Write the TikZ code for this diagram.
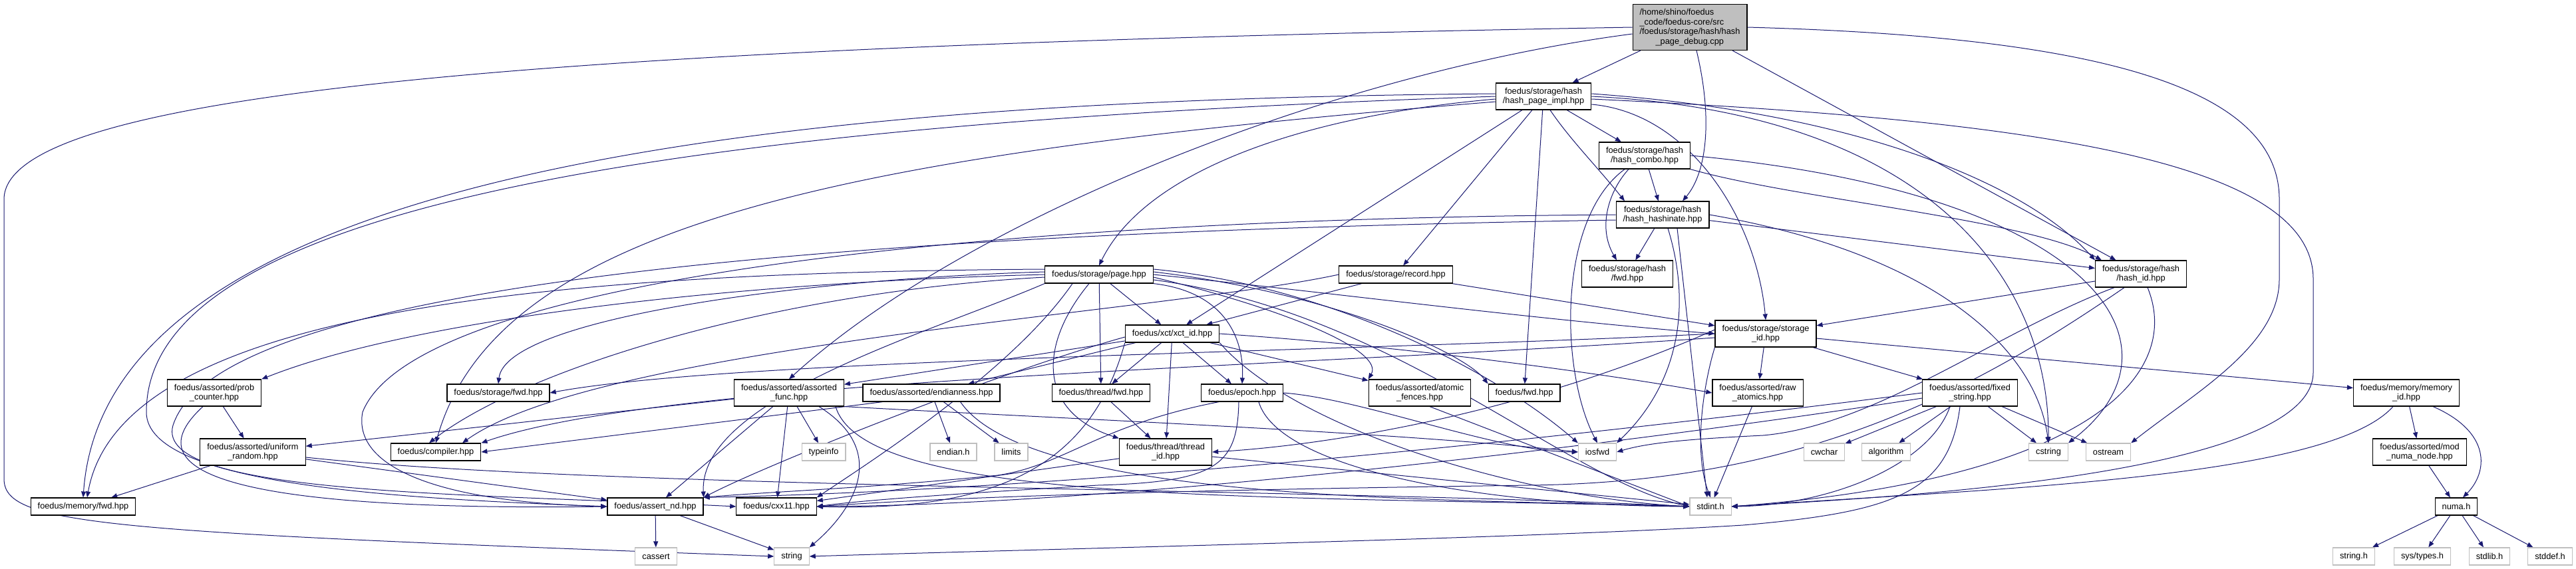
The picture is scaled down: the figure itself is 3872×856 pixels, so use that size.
\documentclass[tikz,border=0pt]{standalone}
\usepackage{fontspec}
\setmainfont{Liberation Sans}
\usepackage{tikz}
\usetikzlibrary{arrows.meta}
\definecolor{edgeblue}{HTML}{191970}
\definecolor{sysgray}{HTML}{BFBFBF}
\pgfdeclarelayer{bg}
\pgfsetlayers{bg,main}

\begin{document}
\begin{tikzpicture}[x=1pt,y=1pt,>={Triangle[length=9pt,width=7pt]}]
  \tikzstyle{hdr}=[draw=black,fill=white,line width=1.2pt,inner xsep=10.5pt,inner ysep=2pt,minimum height=26pt,align=center,font=\fontsize{12.8}{14.5}\selectfont]
  \tikzstyle{two}=[minimum height=40pt]
  \tikzstyle{sys}=[hdr,draw=sysgray]
\useasboundingbox (0,0) rectangle (3872,-856);
\node[hdr,fill=sysgray,minimum height=69pt,align=left] (dbg) at (2540,-41) {/home/shino/foedus\\\_code/foedus-core/src\\/foedus/storage/hash/hash\\\hspace*{24pt}\_page\_debug.cpp};
\node[hdr,two] (impl) at (2320,-145) {foedus/storage/hash\\/hash\_page\_impl.hpp};
\node[hdr,two] (combo) at (2472,-234) {foedus/storage/hash\\/hash\_combo.hpp};
\node[hdr,two] (hashinate) at (2499,-323) {foedus/storage/hash\\/hash\_hashinate.hpp};
\node[hdr] (record) at (2098,-413) {foedus/storage/record.hpp};
\node[hdr,two] (hfwd) at (2446,-412) {foedus/storage/hash\\/fwd.hpp};
\node[hdr,two] (hid) at (3218,-412) {foedus/storage/hash\\/hash\_id.hpp};
\node[hdr] (page) at (1652,-413) {foedus/storage/page.hpp};
\node[hdr] (xctid) at (1762,-502) {foedus/xct/xct\_id.hpp};
\node[hdr,two] (sid) at (2654,-502) {foedus/storage/storage\\\_id.hpp};
\node[hdr,two] (probc) at (322,-591) {foedus/assorted/prob\\\_counter.hpp};
\node[hdr] (sfwd) at (749,-591) {foedus/storage/fwd.hpp};
\node[hdr,two] (afunc) at (1186,-591) {foedus/assorted/assorted\\\_func.hpp};
\node[hdr] (endian) at (1400,-591) {foedus/assorted/endianness.hpp};
\node[hdr] (tfwd) at (1655,-591) {foedus/thread/fwd.hpp};
\node[hdr] (epoch) at (1867,-591) {foedus/epoch.hpp};
\node[hdr,two] (fences) at (2134,-591) {foedus/assorted/atomic\\\_fences.hpp};
\node[hdr] (ffwd) at (2291,-591) {foedus/fwd.hpp};
\node[hdr,two] (raw) at (2642,-591) {foedus/assorted/raw\\\_atomics.hpp};
\node[hdr,two] (fixed) at (2961,-591) {foedus/assorted/fixed\\\_string.hpp};
\node[hdr,two] (memid) at (3617,-591) {foedus/memory/memory\\\_id.hpp};
\node[hdr,two] (urand) at (380,-680) {foedus/assorted/uniform\\\_random.hpp};
\node[hdr] (compiler) at (655,-680) {foedus/compiler.hpp};
\node[sys] (typeinfo) at (1238,-680) {typeinfo};
\node[sys] (endianh) at (1433,-680) {endian.h};
\node[sys] (limits) at (1520,-680) {limits};
\node[hdr,two] (tid) at (1752,-680) {foedus/thread/thread\\\_id.hpp};
\node[sys] (iosfwd) at (2401,-680) {iosfwd};
\node[sys] (cwchar) at (2742,-680) {cwchar};
\node[sys] (algorithm) at (2835,-680) {algorithm};
\node[sys] (cstring) at (3079,-680) {cstring};
\node[sys] (ostream) at (3169,-680) {ostream};
\node[hdr,two] (modnuma) at (3637,-680) {foedus/assorted/mod\\\_numa\_node.hpp};
\node[hdr] (memfwd) at (125,-762) {foedus/memory/fwd.hpp};
\node[hdr] (assertnd) at (985,-762) {foedus/assert\_nd.hpp};
\node[hdr] (cxx) at (1167,-762) {foedus/cxx11.hpp};
\node[sys] (stdint) at (2571,-762) {stdint.h};
\node[hdr] (numa) at (3692,-762) {numa.h};
\node[sys] (cassert) at (986,-837) {cassert};
\node[sys] (string) at (1190,-837) {string};
\node[sys] (stringh) at (3538,-837) {string.h};
\node[sys] (systypes) at (3641,-837) {sys/types.h};
\node[sys] (stdlib) at (3742,-837) {stdlib.h};
\node[sys] (stddef) at (3833,-837) {stddef.h};

\begin{pgfonlayer}{bg}
\begin{scope}[->,edgeblue,line width=1pt]
\path (dbg) edge (impl)
  (dbg) edge (hid);
\draw ([yshift=-10pt]dbg.west) .. controls (2000,-110) and (1450,-330) .. (afunc.north);
\draw ([xshift=10pt]dbg.south) .. controls (2575,-180) and (2565,-260) .. ([xshift=30pt]hashinate.north);
\draw (dbg.west) .. controls (800,-70) and (6,-140) .. (6,-300) -- (6,-720) .. controls (6,-790) and (150,-800) .. (string.west);
\draw (dbg.east) .. controls (3150,-55) and (3426,-130) .. (3426,-300) -- (3426,-420) .. controls (3426,-520) and (3300,-590) .. (ostream.north east);

\path (impl) edge (combo)
  (impl) edge (record)
  (impl) edge (xctid)
  (impl) edge (ffwd);
\draw ([xshift=10pt]impl.south) .. controls (2360,-210) and (2400,-250) .. ([xshift=-57pt]hashinate.north);
\draw ([yshift=-4pt]impl.west) .. controls (1950,-175) and (1720,-260) .. (page.north);
\draw ([yshift=4pt]impl.east) .. controls (2800,-170) and (3050,-280) .. (hid.north west);
\draw ([yshift=-12pt]impl.east) .. controls (2540,-170) and (2640,-330) .. (sid.north);
\draw ([yshift=4pt]impl.west) .. controls (1200,-150) and (160,-250) .. (memfwd.north);
\draw (impl.west) .. controls (900,-190) and (220,-330) .. (220,-620) .. controls (220,-730) and (600,-750) .. (assertnd.west);
\draw ([yshift=-8pt]impl.west) .. controls (1300,-230) and (750,-330) .. (compiler.north);
\draw (impl.east) .. controls (2900,-170) and (3080,-420) .. (cstring.north);
\draw ([yshift=-4pt]impl.east) .. controls (3050,-180) and (3477,-240) .. (3477,-420) -- (3477,-560) .. controls (3477,-720) and (2800,-750) .. (stdint.east);

\path (combo) edge (hashinate);
\draw (combo.south east) .. controls (2700,-300) and (3050,-330) .. ([xshift=10pt]hid.north west);
\draw ([xshift=-24pt]combo.south) .. controls (2420,-285) and (2400,-340) .. ([xshift=-16pt]hfwd.north);
\draw ([xshift=-30pt]combo.south) .. controls (2340,-330) and (2345,-560) .. (iosfwd.north);
\draw (combo.east) .. controls (3150,-290) and (3300,-520) .. (cstring.north east);

\path (hashinate) edge (hfwd)
  (hashinate) edge (hid)
  ([xshift=22pt]hashinate.south) edge ([xshift=-5pt]stdint.north);
\draw (hashinate.west) .. controls (1400,-330) and (620,-430) .. (545,-620) .. controls (530,-700) and (650,-755) .. (assertnd.west);
\draw ([yshift=-8pt]hashinate.west) .. controls (1300,-350) and (330,-420) .. (260,-640) .. controls (230,-745) and (700,-742) .. (cxx.west);
\draw ([xshift=8pt]hashinate.south) .. controls (2540,-450) and (2530,-570) .. (iosfwd.north east);
\draw (hashinate.east) .. controls (2900,-380) and (3060,-520) .. (cstring.north);

\path (record) edge (sid)
  (record) edge (xctid);
\draw (record.west) .. controls (1750,-470) and (900,-520) .. ([xshift=40pt]compiler.north);

\path (page) edge (xctid)
  (page) edge (tfwd);
\draw (page.east) .. controls (2000,-440) and (2300,-480) .. (sid.west);
\draw ([xshift=-15pt]page.south) .. controls (1560,-520) and (1560,-620) .. (tid.north west);
\draw (page.south east) .. controls (1850,-440) and (1870,-520) .. (epoch.north);
\draw (page.west) .. controls (1100,-425) and (620,-480) .. (probc.north east);
\draw ([yshift=4pt]page.west) .. controls (1200,-420) and (760,-480) .. (sfwd.north);
\draw ([yshift=8pt]page.west) .. controls (800,-410) and (180,-470) .. ([xshift=6pt]memfwd.north);
\draw ([yshift=-4pt]page.west) .. controls (1150,-440) and (780,-560) .. ([xshift=-10pt]compiler.north);
\draw (page.south west) .. controls (1400,-500) and (1050,-600) .. (assertnd.north east);
\draw ([xshift=-40pt]page.south) .. controls (1520,-560) and (1300,-700) .. (cxx.north east);
\draw ([yshift=-4pt]page.east) .. controls (1950,-470) and (2080,-530) .. (fences.north west);
\draw ([yshift=4pt]page.east) .. controls (2000,-440) and (2200,-530) .. (ffwd.north west);
\draw ([yshift=8pt]page.east) .. controls (2000,-430) and (2250,-560) .. (iosfwd.north west);
\draw ([yshift=-8pt]page.east) .. controls (2100,-470) and (2350,-720) .. (stdint.west);

\path (xctid) edge (tfwd)
  (xctid) edge (epoch)
  (xctid) edge (endian)
  (xctid) edge (tid)
  (xctid) edge (afunc)
  (xctid) edge (fences);
\draw (xctid.east) .. controls (2100,-520) and (2400,-560) .. (raw.west);
\draw ([yshift=-5pt]xctid.west) .. controls (1500,-560) and (1150,-700) .. (assertnd.north east);
\draw (xctid.south west) .. controls (1640,-700) and (1500,-770) .. (cxx.east);
\draw (xctid.south east) .. controls (1950,-650) and (2300,-750) .. (stdint.west);

\path (sid) edge (raw)
  (sid) edge (fixed)
  (sid) edge (memid);
\draw (sid.south west) .. controls (2560,-580) and (2545,-680) .. (stdint.north);
\draw (sid.west) .. controls (2000,-530) and (1100,-540) .. (sfwd.east);
\draw ([yshift=-6pt]sid.west) .. controls (1900,-555) and (1000,-570) .. (compiler.north east);
\draw ([yshift=6pt]sid.west) .. controls (2300,-620) and (2000,-670) .. (tid.east);

\path (hid) edge (sid);
\draw ([xshift=-40pt]hid.south) .. controls (3000,-500) and (2820,-640) .. (2650,-655) .. controls (2550,-660) and (2480,-665) .. (iosfwd.east);
\draw ([xshift=10pt]hid.south) .. controls (3280,-560) and (3150,-720) .. (stdint.east);
\draw ([xshift=-25pt]hid.south) .. controls (2950,-600) and (2700,-725) .. (2300,-730) .. controls (1700,-738) and (1400,-750) .. (cxx.east);

\path (fixed) edge (cwchar)
  (fixed) edge (algorithm)
  (fixed) edge (cstring)
  (fixed) edge (ostream);
\draw ([xshift=-30pt]fixed.south) .. controls (2900,-700) and (2750,-760) .. (stdint.east);
\draw ([xshift=-15pt]fixed.south) .. controls (2930,-740) and (2850,-770) .. (2620,-790) .. controls (2300,-810) and (1600,-825) .. (string.east);
\draw (fixed.west) .. controls (2500,-640) and (1700,-735) .. (assertnd.north east);
\draw ([yshift=-8pt]fixed.west) .. controls (2500,-660) and (1700,-760) .. (cxx.east);

\path (memid) edge (modnuma)
  (modnuma) edge (numa)
  (numa) edge (stringh)
  (numa) edge (systypes)
  (numa) edge (stdlib)
  (numa) edge (stddef);
\draw ([xshift=40pt]memid.south) .. controls (3745,-650) and (3740,-710) .. ([xshift=10pt]numa.north);
\draw ([xshift=-20pt]memid.south) .. controls (3500,-720) and (3000,-735) .. (stdint.east);

\path (raw) edge (stdint)
  ([xshift=15pt]fences.south) edge (stdint.west)
  (tfwd) edge (tid)
  (tid) edge (cxx)
  (tid) edge (stdint)
  (endian) edge (endianh)
  (endian) edge (limits)
  ([xshift=30pt]endian.south west) edge (compiler.east)
  (afunc) edge (urand)
  (afunc) edge (typeinfo)
  (afunc) edge (assertnd)
  (afunc) edge (cxx)
  (probc) edge (urand)
  (urand) edge (memfwd)
  (urand) edge (assertnd)
  (assertnd) edge (cassert)
  (assertnd) edge (string);
\draw ([xshift=-60pt]endian.south east) .. controls (1550,-760) and (2200,-750) .. (stdint.west);
\draw ([xshift=-35pt]epoch.south) .. controls (1650,-640) and (1600,-700) .. (1500,-715) .. controls (1300,-735) and (1150,-740) .. (assertnd.north east);
\draw ([xshift=-5pt]epoch.south) .. controls (1860,-700) and (1830,-725) .. (1650,-730) .. controls (1450,-742) and (1300,-752) .. (cxx.east);
\draw ([xshift=25pt]epoch.south) .. controls (1920,-700) and (2200,-760) .. (stdint.west);
\draw (epoch.east) .. controls (2050,-600) and (2250,-680) .. (iosfwd.west);
\draw ([xshift=45pt]afunc.south) .. controls (1340,-680) and (1280,-770) .. (string.north east);
\draw ([xshift=70pt]afunc.south) .. controls (1300,-760) and (1900,-745) .. (stdint.west);
\draw (afunc.south east) .. controls (1600,-630) and (2100,-650) .. (iosfwd.west);
\draw ([xshift=-17pt]probc.south) .. controls (220,-690) and (260,-770) .. (assertnd.west);
\draw ([yshift=-8pt]urand.east) .. controls (900,-735) and (2000,-735) .. (stdint.west);
\end{scope}
\end{pgfonlayer}
\end{tikzpicture}
\end{document}
